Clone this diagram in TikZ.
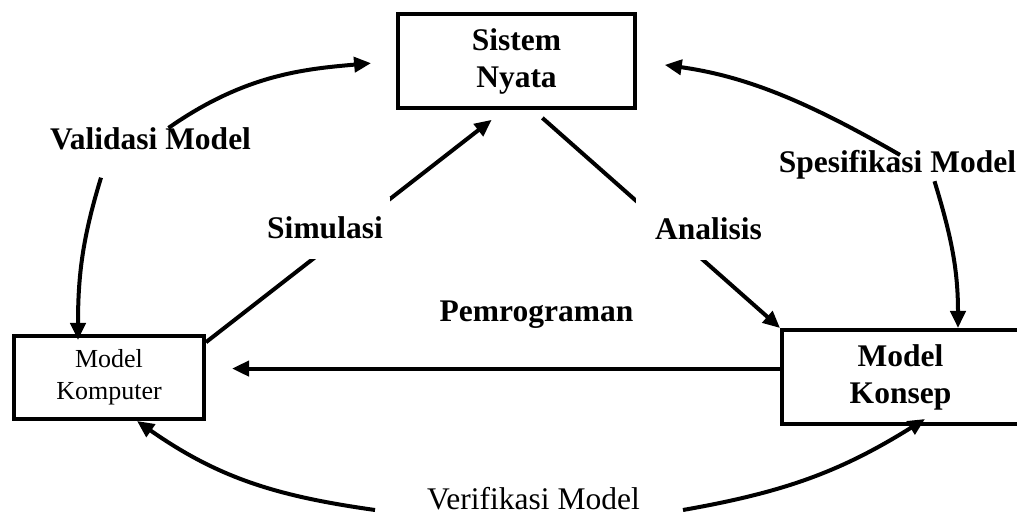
\documentclass[tikz,border=0pt]{standalone}
\usepackage{fontspec}
\setmainfont{Liberation Serif}
\usetikzlibrary{arrows.meta}

\begin{document}
\begin{tikzpicture}[x=1pt,y=1pt]

    \useasboundingbox (0,0) rectangle (1017,517);
    \clip (0,0) rectangle (1017,517);

        \begin{scope}[every node/.style={draw,line width=4pt,align=center,inner sep=0pt}]
            \node[minimum width=237pt,minimum height=94pt,font=\fontsize{31.5}{37}\selectfont\bfseries] (nyata) at (516.5,456) {Sistem\\Nyata};
            \node[minimum width=190pt,minimum height=83pt,font=\fontsize{26}{32}\selectfont] (komputer) at (109,139.5) {Model\\Komputer};
            \node[minimum width=237pt,minimum height=94pt,font=\fontsize{31.5}{37}\selectfont\bfseries] (konsep) at (900.5,140) {Model\\Konsep};
        \end{scope}

        \begin{scope}[every node/.style={inner sep=0pt,font=\fontsize{31.5}{37}\selectfont\bfseries}]
            \node (validasi) at (150.5,377.7) {Validasi Model};
            \node (program) at (536.5,202.4) {Pemrograman};
            \node (spesifikasi) at (897.5,352.4) {Spesifikasi Model};
            \node[font=\fontsize{31.5}{37}\selectfont] (verifikasi) at (533.5,18.5) {Verifikasi Model};
        \end{scope}

        \begin{scope}[every edge/.style={draw,line width=4pt}]
            \path [-{Triangle[length=17pt,width=15pt]}]
                ([xshift=18pt]validasi.north) edge [out=35,in=185,shorten >=25pt] (nyata.west)
                ([xshift=-49.5pt,yshift=-27pt]validasi.south) edge [out=-107,in=90] ([xshift=-31pt,yshift=-6pt]komputer.north)
                (komputer.20) edge [shorten >=16pt] (nyata.-104)
                (nyata.-71) edge [shorten <=12pt] (konsep.north west)
                (konsep.176) edge [shorten >=26pt] (konsep.176 -| komputer.east)
                ([xshift=2.5pt,yshift=-5pt]spesifikasi.north) edge [out=150,in=-8,shorten >=28pt] (nyata.east)
                ([xshift=37pt,yshift=-2pt]spesifikasi.south) edge [out=-73,in=90] ([xshift=57.5pt]konsep.north)
                ([xshift=-52pt,yshift=-11.5pt]verifikasi.west) edge [out=172,in=-35] ([xshift=28pt]komputer.south)
                ([xshift=43pt,yshift=-11.5pt]verifikasi.east) edge [out=10,in=-148] ([xshift=24.5pt,yshift=7pt]konsep.south);
        \end{scope}

        \begin{scope}[every node/.style={fill=white,inner sep=0pt,minimum height=62pt,font=\fontsize{31.5}{37}\selectfont\bfseries}]
            \node[minimum width=130pt] (simulasi) at (325,289) {Simulasi};
            \node[minimum width=145pt] (analisis) at (708.5,288) {Analisis};
        \end{scope}

    \end{tikzpicture}
\end{document}
